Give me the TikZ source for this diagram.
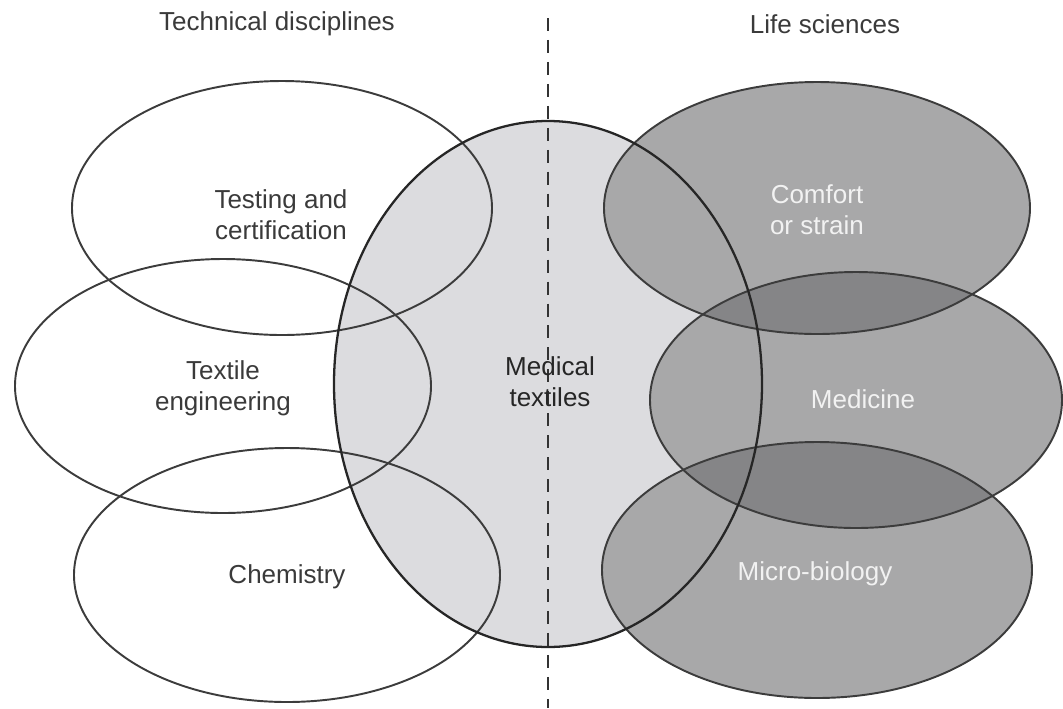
\documentclass[tikz,border=0pt]{standalone}
\usepackage{fontspec}
\setmainfont{Liberation Sans}
\definecolor{medgray}{HTML}{DCDCDF}
\definecolor{lifegray}{HTML}{6E6E71}
\definecolor{linegray}{HTML}{3C3C3C}
\definecolor{txtgray}{HTML}{3A3A3A}
\tikzset{
  area/.style={draw=linegray, line width=1.1pt},
  lifearea/.style={fill=lifegray, fill opacity=0.6},
  fieldtext/.style={text=txtgray, align=center, font=\fontsize{14.8}{17.5}\selectfont},
  lifetext/.style={fieldtext, text=white!95!black},
}
\begin{document}
\begin{tikzpicture}[x=0.02cm, y=-0.02cm]
    \useasboundingbox (0,0) rectangle (1063,708);

    % Medical textiles
    \fill[medgray] (548,384) ellipse [x radius=214, y radius=263];

    % Life sciences
    \fill[white] (817,208) ellipse [x radius=213, y radius=126]
                 (856,400) ellipse [x radius=206, y radius=128]
                 (817,570) ellipse [x radius=215, y radius=128];
    \fill[lifearea] (817,208) ellipse [x radius=213, y radius=126];
    \fill[lifearea] (856,400) ellipse [x radius=206, y radius=128];
    \fill[lifearea] (817,570) ellipse [x radius=215, y radius=128];

    % Outlines
    \draw[area] (282,208) ellipse [x radius=210, y radius=127];
    \draw[area] (223,386) ellipse [x radius=208, y radius=127];
    \draw[area] (287,575) ellipse [x radius=213, y radius=127];
    \draw[area] (817,208) ellipse [x radius=213, y radius=126];
    \draw[area] (856,400) ellipse [x radius=206, y radius=128];
    \draw[area] (817,570) ellipse [x radius=215, y radius=128];
    \draw[area, draw=black!85, line width=1.3pt] (548,384) ellipse [x radius=214, y radius=263];

    % Divider
    \coordinate (divtop) at (548,18);
    \coordinate (divbot) at (548,708);
    \draw[black!80, line width=1.1pt, dash pattern=on 7.4pt off 5.1pt] (divtop) -- (divbot);

    % Headings
    \node[fieldtext] (tech) at (277,24) {Technical disciplines};
    \node[fieldtext] (life) at (825,24) {Life sciences};

    % Fields
    \node[fieldtext] (testing) at (281,215) {Testing and\\certification};
    \node[fieldtext] (textile) at (223,388) {Textile\\engineering};
    \node[fieldtext] (chem) at (287,577) {Chemistry};
    \node[fieldtext, text=black!85] (medical) at (550,382) {Medical\\textiles};
    \node[lifetext] (comfort) at (817,210) {Comfort\\or strain};
    \node[lifetext] (medicine) at (863,399) {Medicine};
    \node[lifetext] (micro) at (815,574) {Micro-biology};
\end{tikzpicture}
\end{document}
